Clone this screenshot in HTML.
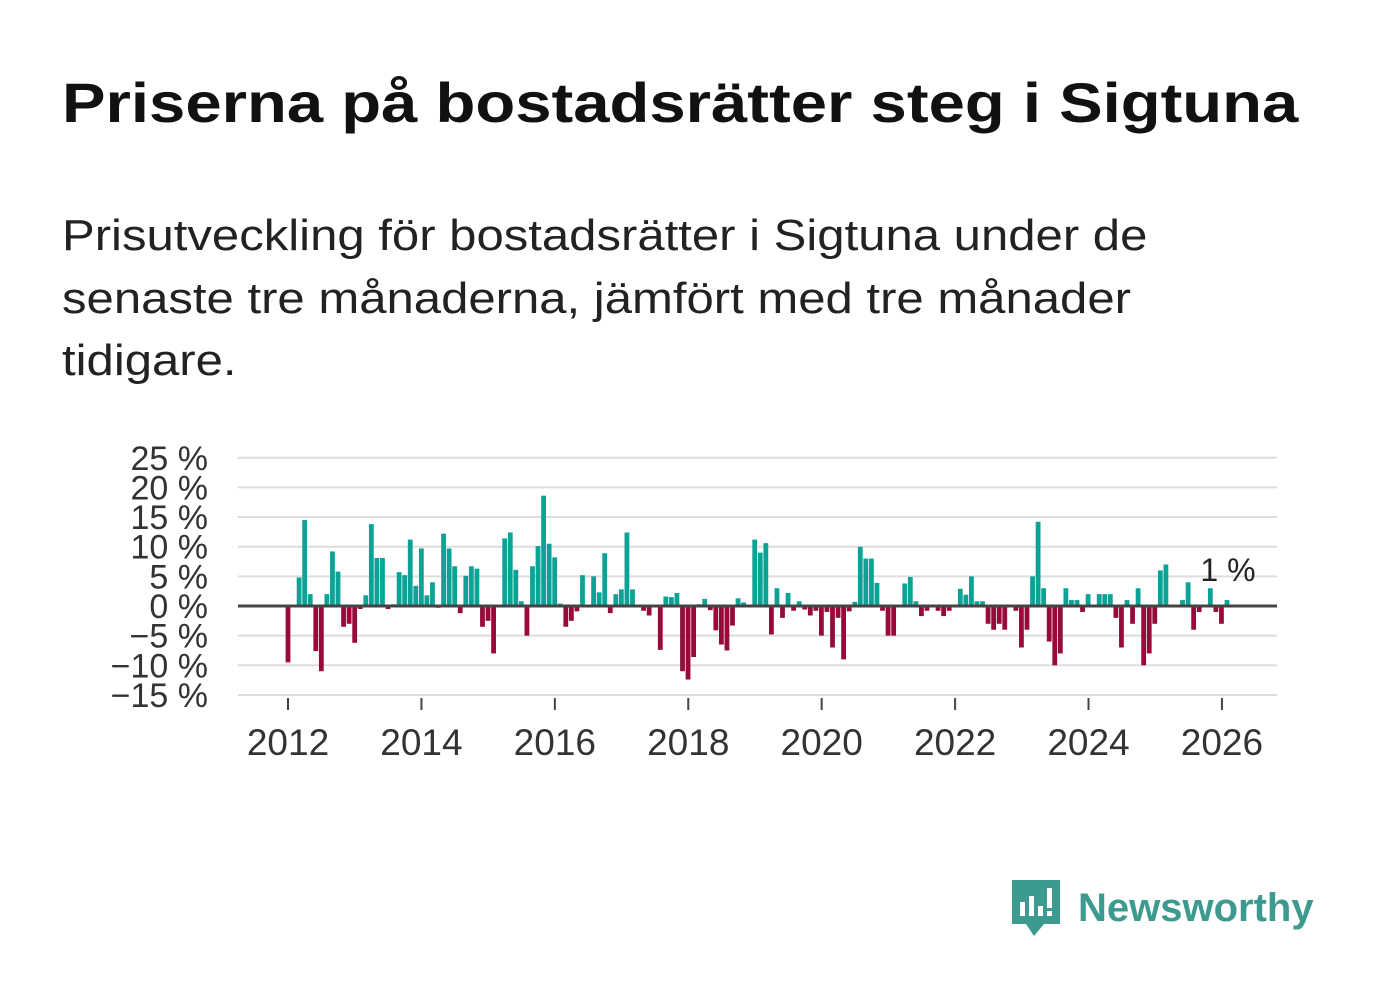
<!DOCTYPE html>
<html><head><meta charset="utf-8"><style>
body{margin:0;background:#fff;width:1382px;height:999px;overflow:hidden;font-family:"Liberation Sans","DejaVu Sans",sans-serif}
#title{position:absolute;left:62px;top:70px;font-size:56px;font-weight:bold;color:#111;white-space:nowrap;transform:scaleX(1.165);transform-origin:left top}
#sub{position:absolute;left:62px;top:205px;font-size:44px;line-height:62.5px;color:#222;white-space:nowrap;transform:scaleX(1.115);transform-origin:left top}
svg{position:absolute;left:0;top:0}
#logo{position:absolute;left:1010px;top:878px;display:flex;align-items:center}
#logo span{font-size:40px;font-weight:bold;color:#3d9a8f;margin-left:16px}
</style></head><body>
<div id="title">Priserna på bostadsrätter steg i Sigtuna</div>
<div id="sub">Prisutveckling för bostadsrätter i Sigtuna under de<br>senaste tre månaderna, jämfört med tre månader<br>tidigare.</div>
<svg id="chart" width="1382" height="999"></svg>
<div id="logo">
<svg width="52" height="60" viewBox="0 0 52 60" style="position:static"><path d="M2 2h48v44H34l-10 12-8-12H2z" fill="#3d9a8f"/><rect x="10" y="24" width="5" height="14" fill="#fff"/><rect x="19" y="18" width="5" height="20" fill="#fff"/><rect x="28" y="28" width="5" height="10" fill="#fff"/><rect x="37" y="10" width="5" height="20" fill="#fff"/><rect x="37" y="33" width="5" height="5" fill="#fff"/></svg>
<span>Newsworthy</span></div>
<script>
const yTicks=[25,20,15,10,5,0,-5,-10,-15];
const yTickLabels=["25 %","20 %","15 %","10 %","5 %","0 %","−5 %","−10 %","−15 %"];
const xYears=[2012,2014,2016,2018,2020,2022,2024,2026];
const values=[-9.5,0,4.8,14.5,2,-7.6,-11,2,9.2,5.8,-3.5,-3,-6.2,-0.5,1.8,13.8,8.1,8.1,-0.5,0.3,5.7,5.2,11.2,3.4,9.7,1.8,4,-0.3,12.2,9.7,6.7,-1.2,5.1,6.7,6.3,-3.5,-2.5,-8,0,11.4,12.4,6.1,0.8,-5,6.7,10.1,18.6,10.5,8.2,0.4,-3.5,-2.5,-0.9,5.2,0,5,2.3,8.9,-1.2,2,2.8,12.4,2.8,0,-0.8,-1.6,0,-7.4,1.6,1.5,2.2,-11,-12.4,-8.6,0.3,1.2,-0.7,-4.1,-6.5,-7.5,-3.3,1.3,0.6,0,11.2,9,10.6,-4.8,3,-2,2.2,-0.8,0.8,-0.6,-1.6,-0.8,-5,-1,-7,-2,-9,-0.9,0.7,10,8,8,3.9,-0.8,-5,-5,0,3.8,4.9,0.8,-1.7,-0.8,0,-0.8,-1.7,-0.8,0,2.9,1.9,5,0.8,0.8,-3,-4,-3,-4,0,-0.8,-7,-4,5,14.2,3,-6,-10,-8,3,1,1,-1,2,0,2,2,2,-2,-7,1,-3,3,-10,-8,-3,6,7,0,0,1,4,-4,-1,0,3,-1,-3,1];
const lastLabel="1 %";
const svg=document.getElementById('chart');const NS='http://www.w3.org/2000/svg';
function y(v){return 606-(v)*5.93;}
function xi(i){return 288+i*(1227-288)/(values.length-1);}
function xYear(yr){return 288+(yr-2012)*66.71;}
function mk(t,a){const e=document.createElementNS(NS,t);for(const k in a)e.setAttribute(k,a[k]);svg.appendChild(e);return e;}
yTicks.forEach((t,i)=>{if(t!==0){const g=mk('line',{x1:238,x2:1277,y1:y(t),y2:y(t),stroke:'#ddd','stroke-width':2});

}
const l=mk('text',{x:208,y:y(t)+12,'text-anchor':'end','font-size':34,fill:'#333','font-family':'Liberation Sans,sans-serif'});l.textContent=yTickLabels[i];

});
values.forEach((v,i)=>{if(v===0)return;const r=mk('rect',{x:xi(i)-2.4,width:4.8,y:Math.min(y(v),y(0)),height:Math.abs(y(v)-y(0)),fill:v>0?'#0aa396':'#990a3c'});

});
const z=mk('line',{x1:238,x2:1277,y1:y(0),y2:y(0),stroke:'#444','stroke-width':3});


xYears.forEach(yr=>{const t=mk('line',{x1:xYear(yr),x2:xYear(yr),y1:698,y2:710,stroke:'#444','stroke-width':2});


const l=mk('text',{x:xYear(yr),y:755,'text-anchor':'middle','font-size':37,fill:'#333','font-family':'Liberation Sans,sans-serif'});l.textContent=yr;

});
const lab=mk('text',{x:1228,y:581,'text-anchor':'middle','font-size':32,fill:'#222','font-family':'Liberation Sans,sans-serif'});lab.textContent=lastLabel;


</script>
</body></html>
